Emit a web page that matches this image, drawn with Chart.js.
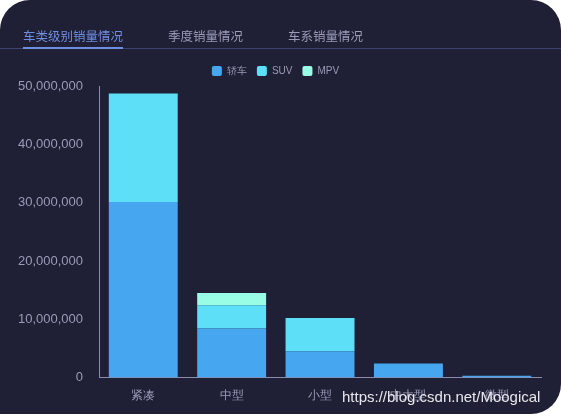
<!DOCTYPE html>
<html><head><meta charset="utf-8">
<script src="https://cdn.jsdelivr.net/npm/chart.js@4"></script>
<style>
html,body{margin:0;padding:0;background:#fff;width:561px;height:418px;overflow:hidden;font-family:"Noto Sans CJK SC","Noto Sans",sans-serif}
#card{position:absolute;left:0;top:0;width:561px;height:414px;background:#1f1f35;border-radius:30px 30px 30px 0;}
#tabs{position:absolute;left:0;top:22px;width:561px;height:26px;border-bottom:1px solid #3e4270;z-index:2}
.tab{position:absolute;top:4px;font-size:12.5px;color:#9a9cb8}
.tab.a{color:#6f8ee0;border-bottom:2px solid #6f8ee0;height:21px}
#wrap{position:absolute;left:0;top:42px;width:561px;height:368px}
#wm{position:absolute;left:342px;top:388px;font-family:"Liberation Sans",sans-serif;font-size:15px;color:#e8e8ee}
</style></head><body>
<div id="card">
<div id="tabs">
<div class="tab a" style="left:23px">车类级别销量情况</div>
<div class="tab" style="left:168px">季度销量情况</div>
<div class="tab" style="left:288px">车系销量情况</div>
</div>
<div id="wrap"><canvas id="c"></canvas></div>
<div id="wm">https://blog.csdn.net/Moogical</div>
</div>
<script>
const categories=["紧凑","中型","小型","中大型","微型"];
const sedan=[30100000,8400000,4500000,2400000,300000];
const suv=[18600000,4000000,5700000,0,0];
const mpv=[0,2100000,0,0,0];
const yTicks=[0,10000000,20000000,30000000,40000000,50000000];
new Chart(document.getElementById('c'),{
type:'bar',
data:{labels:categories,datasets:[
{label:'轿车',data:sedan,backgroundColor:'#47a6f0'},
{label:'SUV',data:suv,backgroundColor:'#5ddff7'},
{label:'MPV',data:mpv,backgroundColor:'#99fde6'}]},
options:{responsive:true,maintainAspectRatio:false,animation:false,
layout:{padding:{left:10,right:20,top:14,bottom:4}},
plugins:{legend:{labels:{color:'#9a9cb8',boxWidth:10,boxHeight:10,font:{size:10},padding:10,useBorderRadius:true,borderRadius:2}},tooltip:{enabled:false}},
datasets:{bar:{categoryPercentage:0.78,barPercentage:1}},
scales:{
x:{stacked:true,grid:{display:false},border:{color:'#8a8cb0'},ticks:{color:'#9a9cb8',font:{size:12}}},
y:{stacked:true,min:0,max:50000000,afterBuildTicks:a=>{a.ticks=yTicks.map(v=>({value:v}));},grid:{display:false},border:{color:'#8a8cb0'},
ticks:{color:'#9a9cb8',font:{size:13},padding:8,callback:v=>v.toLocaleString('en-US')}}}}
});
</script></body></html>
